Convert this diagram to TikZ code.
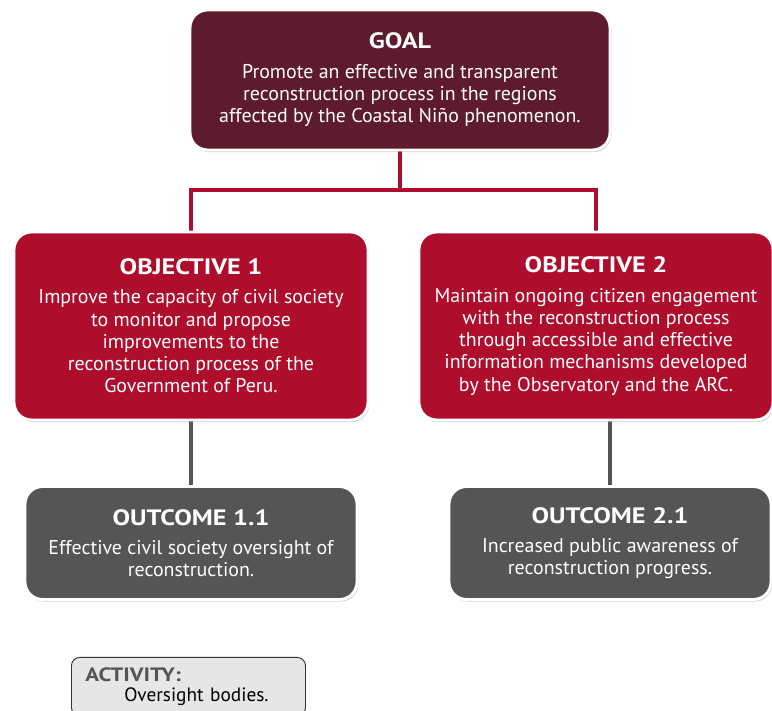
\documentclass[tikz,border=0pt]{standalone}
\usepackage{fontspec}
\setmainfont{PT Sans}
\newfontfamily\titlefont{PT Sans}[FakeStretch=1.18]
\usetikzlibrary{shadows,backgrounds}
\definecolor{goalfill}{HTML}{5E1B2E}
\definecolor{objfill}{HTML}{AF0D2C}
\definecolor{outfill}{HTML}{555555}
\definecolor{actfill}{HTML}{E6E6E6}
\definecolor{actgray}{HTML}{555555}
\newcommand{\boxtitle}[1]{{\titlefont\fontsize{19}{21}\selectfont\bfseries #1}}
\begin{document}
\begin{tikzpicture}[x=0.03cm,y=-0.03cm,
  box/.style={rectangle, rounded corners=15pt, draw=white, line width=2.5pt,
    text=white, align=center, inner sep=0pt,
    font=\fontsize{17}{19}\selectfont,
    drop shadow={shadow xshift=1.2pt, shadow yshift=-1.8pt, opacity=0.35}},
  goalbox/.style={box, fill=goalfill, minimum width=12.6cm, minimum height=4.2cm},
  objbox/.style={box, fill=objfill, minimum width=10.62cm, minimum height=5.64cm},
  outbox/.style={box, fill=outfill, minimum height=3.39cm},
  redline/.style={draw=objfill, line width=3.2pt},
  grayline/.style={draw=outfill, line width=3.2pt}]
\useasboundingbox (0,0) rectangle (772,711);

\node[goalbox] (goal) at (400,80) {\boxtitle{GOAL}\\[6pt]
  Promote an effective and transparent\\
  reconstruction process in the regions\\
  affected by the Coastal Niño phenomenon.};

\node[objbox] (obj1) at (191,326) {\boxtitle{OBJECTIVE 1}\\[6pt]
  Improve the capacity of civil society\\
  to monitor and propose\\
  improvements to the\\
  reconstruction process of the\\
  Government of Peru.};
\node[objbox] (obj2) at (596,326) {\boxtitle{OBJECTIVE 2}\\[6pt]
  Maintain ongoing citizen engagement\\
  with the reconstruction process\\
  through accessible and effective\\
  information mechanisms developed\\
  by the Observatory and the ARC.};

\node[outbox, minimum width=9.96cm] (out1) at (191,543) {\boxtitle{OUTCOME 1.1}\\[6pt]
  Effective civil society oversight of\\
  reconstruction.};
\node[outbox, minimum width=9.66cm] (out2) at (610,543) {\boxtitle{OUTCOME 2.1}\\[6pt]
  Increased public awareness of\\
  reconstruction progress.};

\node[draw=black!80, fill=actfill, rounded corners=7pt, line width=0.8pt,
  anchor=north west, minimum width=7.02cm, minimum height=1.75cm,
  text width=6.18cm, align=left, inner xsep=0.42cm,
  font=\fontsize{16.5}{17}\selectfont] (act) at (71,657)
  {\textcolor{actgray}{\titlefont\fontsize{16.5}{17}\selectfont\bfseries ACTIVITY:}\\
   \hspace*{1.17cm}Oversight bodies.};

% connectors
\coordinate (split) at (400,190);
\begin{scope}[on background layer]
\draw[redline] (goal.south) -- (split);
\draw[redline] (split) -| (obj1.north);
\draw[redline] (split) -| (obj2.north);
\draw[grayline] (obj1.south) -- (out1.north);
\draw[grayline] (out2.north |- obj2.south) -- (out2.north);
\end{scope}
\end{tikzpicture}
\end{document}
